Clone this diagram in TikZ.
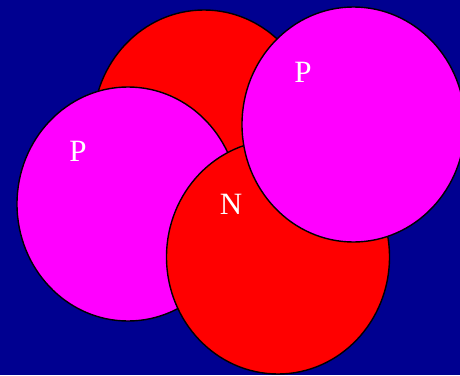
\documentclass[tikz,border=0pt]{standalone}
\usepackage{fontspec}
\setmainfont{Liberation Serif}
\definecolor{bg}{RGB}{0,0,144}
\definecolor{pcol}{RGB}{255,0,255}
\definecolor{ncol}{RGB}{255,0,0}
\begin{document}
\begin{tikzpicture}[x=1pt,y=-1pt,
  nucl/.style={draw=black,line width=1.4pt},
  lbl/.style={text=white,inner sep=0pt,font=\fontsize{31}{31}\selectfont}]
\fill[bg] (0,0) rectangle (460,375);
\useasboundingbox (0,0) rectangle (460,375);
\begin{scope}
\clip (0,0) rectangle (460,375);
\fill[ncol,nucl] (204,127) ellipse [x radius=111, y radius=117];
\fill[pcol,nucl] (128,204) ellipse [x radius=111, y radius=117];
\fill[ncol,nucl] (278,257) ellipse [x radius=111.5, y radius=117];
\fill[pcol,nucl] (353.5,124.5) ellipse [x radius=111.5, y radius=117.5];
\end{scope}
\node[lbl] (p1) at (78,151) {P};
\node[lbl] (n1) at (231,204) {N};
\node[lbl] (p2) at (303,72) {P};
\end{tikzpicture}
\end{document}
